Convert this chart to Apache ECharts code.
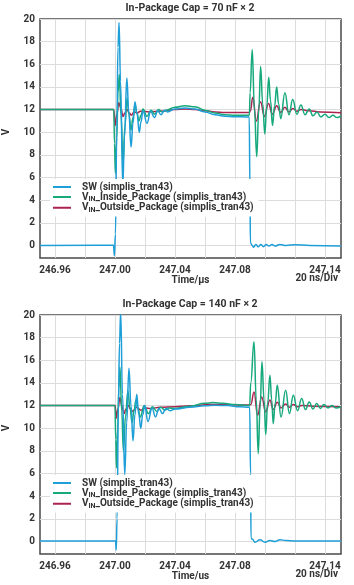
<!DOCTYPE html>
<html>
<head>
<meta charset="utf-8">
<script src="https://cdn.jsdelivr.net/npm/echarts@6/dist/echarts.min.js"></script>
<style>
html, body { margin: 0; padding: 0; background: #fff; }
#chart { width: 354px; height: 585px; }
</style>
</head>
<body>
<div id="chart"></div>
<script>
// time is given in ns after 247.00 us, voltage in V
var xTickNs = [-40, -20, 0, 20, 40, 60, 80, 100, 120, 140];
var xLabelNs = [-40, 0, 40, 80, 140];
var yTicks = [0, 2, 4, 6, 8, 10, 12, 14, 16, 18, 20];

var titles = ["In-Package Cap = 70 nF × 2", "In-Package Cap = 140 nF × 2"];
var timeNames = ["Time/µs", "Time/us"];
var names = ["SW (simplis_tran43)", "VIN_Inside_Package (simplis_tran43)", "VIN_Outside_Package (simplis_tran43)"];

// 70 nF x 2
var sw70 = [[-50, 0.0], [-1.0, 0.02], [-0.4, -0.9], [0.3, 1.0], [1.2, 10.0], [2.0, 17.5], [2.7, 19.7], [3.7, 14.5],
  [5.2, 5.3], [6.3, 9.5], [7.9, 14.8], [9.2, 11.8], [10.7, 8.7], [12, 10.8], [13.3, 12.7], [14.7, 11.6], [16.2, 10.0],
  [17.3, 10.9], [18.7, 11.9], [21.3, 10.8], [23.8, 11.85], [26.3, 11.3], [28.5, 11.9], [30.7, 11.55], [33, 11.95],
  [35, 11.8], [40, 12.05], [46.7, 12.15], [53.3, 12.05], [60, 11.8], [66.7, 11.55], [73.3, 11.42], [80, 11.38],
  [89.5, 11.35], [90.0, 5.0], [90.3, 0.25], [91.3, 0.05], [92.3, -0.15], [94, 0.1], [95.5, -0.1], [97.3, 0.1],
  [99, -0.1], [100.7, 0.1], [102.7, -0.05], [104.7, 0.1], [106.7, -0.05], [110, 0.1], [114, 0.0], [120, 0.08],
  [130, 0.0], [150.7, -0.05]];
var in70 = [[-50, 12.0], [-0.8, 12.0], [-0.3, 9.0], [0.2, 6.4], [1.2, 9.5], [2.0, 13.5], [2.9, 15.1], [4.0, 11.5],
  [5.4, 7.2], [6.6, 10.5], [8.0, 13.0], [9.3, 11.6], [10.7, 10.2], [12, 11.3], [13.3, 12.4], [14.7, 11.7], [16.0, 11.0],
  [17.3, 11.5], [18.7, 12.05], [21.3, 11.4], [24, 11.95], [26.5, 11.6], [29, 12.0], [31.5, 11.8], [34, 11.95],
  [40, 12.2], [46.7, 12.35], [53.3, 12.25], [60, 11.95], [66.7, 11.7], [73.3, 11.55], [80, 11.5], [89.6, 11.5],
  [90.1, 13.5], [91.5, 17.3], [93, 12.0], [94.5, 7.85], [95.9, 12.0], [97.1, 15.8], [98.5, 12.5], [99.9, 9.85],
  [101.2, 12.3], [102.5, 14.85], [103.7, 12.8], [105, 10.6], [106.4, 12.3], [107.8, 14.0], [109.1, 12.5],
  [110.5, 11.2], [113.3, 13.5], [116, 11.55], [118.5, 12.9], [121.3, 11.6], [124, 12.4], [126.7, 11.55],
  [129.5, 12.05], [132, 11.45], [134.7, 11.8], [137.3, 11.35], [140, 11.6], [142.7, 11.3], [145.3, 11.5],
  [148, 11.3], [150.7, 11.45]];
var out70 = [[-50, 12.0], [-0.8, 12.0], [0, 10.6], [1.3, 11.6], [2.5, 12.6], [4.0, 12.1], [5.3, 11.4], [6.6, 11.7],
  [8.0, 12.0], [9.6, 11.7], [11, 11.5], [12.7, 11.8], [14.7, 11.7], [17, 11.85], [23, 11.8], [30, 11.85], [40, 12.0],
  [46.7, 12.05], [53.3, 12.0], [60, 11.9], [66.7, 11.8], [73.3, 11.75], [89.6, 11.75], [90.3, 11.9], [91.9, 13.1],
  [94.2, 11.0], [97, 12.7], [99.7, 11.4], [102.3, 12.55], [105, 11.6], [107.8, 12.35], [110.5, 11.75], [113.3, 12.2],
  [116, 11.8], [118.7, 12.1], [121.3, 11.85], [124, 12.0], [129.5, 11.9], [136.7, 11.8], [150.7, 11.72]];

// 140 nF x 2
var sw140 = [[-50, 0.05], [0.4, 0.05], [0.8, -0.75], [1.4, 2.0], [2.3, 12.0], [3.0, 17.5], [3.8, 20.3], [5.0, 13.0],
  [6.5, 5.9], [7.8, 10.5], [9.3, 15.3], [10.7, 12.0], [12, 8.9], [13.3, 11.2], [14.5, 13.0], [15.8, 11.3],
  [17.2, 10.0], [18.5, 11.2], [19.8, 12.0], [22, 10.6], [24.7, 11.8], [27, 11.0], [29.3, 11.75], [31.7, 11.3],
  [34, 11.75], [36.7, 11.55], [40, 11.7], [50, 11.85], [60, 11.98], [66.7, 12.03], [75, 12.0], [83.3, 11.9],
  [89.8, 11.85], [90.4, 6.0], [90.7, 0.3], [91.7, 0.2], [93.3, -0.06], [96.7, 0.15], [100, -0.06], [103.3, 0.09],
  [106.7, 0.0], [110, 0.15], [114, 0.1], [120, 0.05], [150.7, 0.05]];
var in140 = [[-50, 12.0], [0.0, 12.0], [0.5, 9.0], [1.0, 6.5], [1.8, 10.0], [2.5, 13.5], [3.3, 15.4], [4.5, 11.5],
  [5.6, 8.0], [7, 11.0], [8.6, 13.3], [10, 11.8], [11.4, 10.5], [12.7, 11.6], [14, 12.5], [15.4, 11.7], [16.8, 11.0],
  [19.5, 12.0], [22.3, 11.3], [25, 11.9], [27.8, 11.5], [30.5, 11.85], [33.3, 11.6], [36, 11.8], [40, 11.75],
  [50, 11.95], [60, 12.2], [65.3, 12.27], [72, 12.2], [80, 12.1], [89.8, 12.0], [90.5, 14.0], [92.7, 17.64],
  [94.2, 12.5], [95.5, 7.76], [96.8, 12.0], [98, 15.87], [99.4, 12.5], [100.5, 9.44], [101.8, 12.2], [103.3, 14.69],
  [104.5, 12.5], [105.5, 10.4], [106.8, 12.2], [108.2, 13.8], [110.7, 11.0], [113.8, 13.36], [116.3, 11.3],
  [118.9, 12.92], [121.7, 11.55], [124.5, 12.63], [127, 11.65], [129.5, 12.33], [132, 11.7], [134.5, 12.18],
  [137, 11.75], [139.3, 12.1], [142, 11.8], [144.7, 12.0], [147.3, 11.8], [150.7, 11.9]];
var out140 = [[-50, 12.0], [0.2, 12.0], [0.7, 10.86], [2, 11.7], [3.3, 12.72], [4.6, 12.0], [6.0, 11.3], [7.3, 11.7],
  [8.9, 12.0], [10.3, 11.7], [11.7, 11.5], [14.4, 11.85], [17.3, 11.6], [20, 11.8], [24, 11.75], [30, 11.85],
  [40, 11.9], [50, 11.98], [63.3, 12.1], [75, 12.08], [89.8, 12.05], [90.6, 12.1], [92.7, 13.2], [95.1, 11.15],
  [97.8, 12.77], [100.5, 11.45], [103.3, 12.5], [105.5, 11.65], [108.2, 12.3], [110.7, 11.8], [113.8, 12.15],
  [116.3, 11.85], [118.9, 12.1], [121.7, 11.9], [124.5, 12.02], [132, 11.95], [150.7, 11.9]];

var swData = [sw70, sw140];
var inData = [in70, in140];
var outData = [out70, out140];

var FONT = "Roboto";
var TXT = "#333";
var colors = { sw: "#1f9fd8", vin: "#17a97c", vout: "#ad2350" };
var gridTops = [19, 315];

function legendText(name) {
    if (name.indexOf("VIN") === 0) {
        return "{v|V}{s|IN}{v|" + name.slice(3) + "}";
    }
    return "{v|" + name + "}";
}

var myChart = echarts.init(document.getElementById("chart"));

var grids = [], xAxes = [], yAxes = [], series = [], legends = [], titleList = [], graphics = [];
[0, 1].forEach(function (i) {
    grids.push({
        left: 40, right: 13, top: gridTops[i], height: 239,
        show: true, borderColor: "#4a4a4a", borderWidth: 1.5, backgroundColor: "#fff"
    });
    xAxes.push({
        gridIndex: i, type: "value", min: -50, max: 150.7,
        name: timeNames[i], nameLocation: "middle", nameGap: 15,
        nameTextStyle: { fontFamily: FONT, fontWeight: "bold", fontSize: 10, color: TXT },
        axisLine: { show: false },
        axisTick: { show: false, customValues: xTickNs },
        axisLabel: {
            customValues: xLabelNs, margin: 7,
            fontFamily: FONT, fontWeight: "bold", fontSize: 10, color: TXT,
            formatter: function (v) { return (247 + v / 1000).toFixed(2); }
        },
        splitLine: { show: true, lineStyle: { color: "#dcdcdc", width: 1 } }
    });
    yAxes.push({
        gridIndex: i, type: "value", min: -1.1, max: 20,
        axisLine: { show: false },
        axisTick: { show: false, customValues: yTicks },
        axisLabel: { customValues: yTicks, margin: 5, fontFamily: FONT, fontWeight: "bold", fontSize: 10, color: TXT },
        splitLine: { show: true, lineStyle: { color: "#dcdcdc", width: 1 } }
    });
    // draw order: outside, inside, SW
    [[names[2], outData[i], colors.vout], [names[1], inData[i], colors.vin], [names[0], swData[i], colors.sw]].forEach(function (s) {
        series.push({
            name: s[0], type: "line", xAxisIndex: i, yAxisIndex: i,
            data: s[1], symbol: "none", smooth: 0.45, smoothMonotone: "x",
            lineStyle: { width: 1.5, color: s[2] }, itemStyle: { color: s[2] }
        });
    });
    legends.push({
        data: names, orient: "vertical", left: 50, top: gridTops[i] + 160,
        backgroundColor: "#fff", padding: [3, 5, 3, 3],
        icon: "rect", itemWidth: 18, itemHeight: 2, itemGap: 0,
        formatter: legendText,
        textStyle: {
            padding: [0, 0, 0, 6],
            rich: {
                v: { fontFamily: FONT, fontWeight: "bold", fontSize: 10, color: TXT, lineHeight: 11.5 },
                s: { fontFamily: FONT, fontWeight: "bold", fontSize: 7, color: TXT, lineHeight: 7, verticalAlign: "bottom" }
            }
        }
    });
    titleList.push({
        text: titles[i], left: 190, top: gridTops[i] - 16, textAlign: "center", padding: 0,
        textStyle: { fontFamily: FONT, fontWeight: "bold", fontSize: 10.5, color: TXT }
    });
    graphics.push({
        type: "text", x: 6, y: gridTops[i] + 113, rotation: Math.PI / 2,
        style: { text: "V", font: "bold 10px " + FONT, fill: TXT, align: "center", verticalAlign: "middle" }
    });
    graphics.push({
        type: "text", x: 338, y: gridTops[i] + 259,
        style: { text: "20 ns/Div", font: "bold 10px " + FONT, fill: TXT, align: "right", verticalAlign: "middle" }
    });
});

myChart.setOption({
    animation: false,
    title: titleList,
    grid: grids,
    xAxis: xAxes,
    yAxis: yAxes,
    legend: legends,
    graphic: graphics,
    series: series
});
</script>
</body>
</html>
